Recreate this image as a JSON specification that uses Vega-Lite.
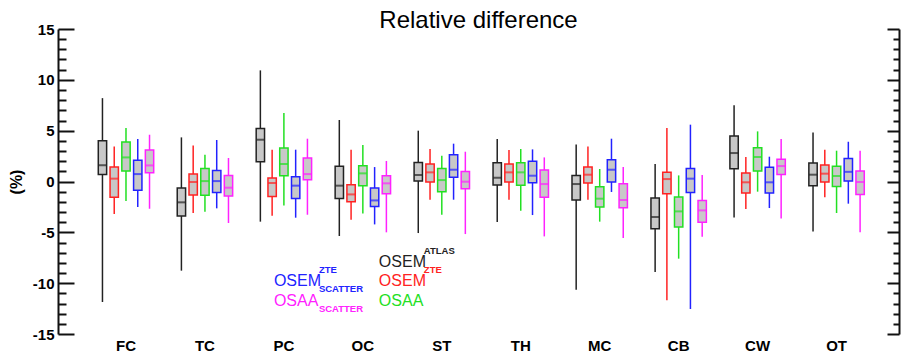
{
  "$schema": "https://vega.github.io/schema/vega-lite/v6.json",
  "width": 841,
  "height": 305,
  "autosize": {"type": "none"},
  "padding": {"left": 58, "top": 29, "right": 2, "bottom": 22},
  "background": "white",
  "title": {"text": "Relative difference", "fontSize": 24, "fontWeight": "normal", "font": "Liberation Sans", "color": "#000000", "anchor": "middle", "baseline": "alphabetic", "offset": 2, "dy": 32},
  "config": {"view": {"stroke": null}, "font": "Liberation Sans"},
  "datasets": {
    "box": [
      {"cat": "FC", "series": "A", "lo": -11.85, "q1": 0.7, "med": 1.6, "q3": 4.0, "hi": 8.2},
      {"cat": "FC", "series": "Z", "lo": -3.2, "q1": -1.56, "med": 0.28, "q3": 1.42, "hi": 3.45},
      {"cat": "FC", "series": "O", "lo": -1.92, "q1": 1.03, "med": 2.37, "q3": 3.88, "hi": 5.26},
      {"cat": "FC", "series": "ZS", "lo": -2.5, "q1": -0.87, "med": 0.73, "q3": 2.08, "hi": 4.18},
      {"cat": "FC", "series": "OS", "lo": -2.68, "q1": 0.87, "med": 1.58, "q3": 3.1, "hi": 4.6},
      {"cat": "TC", "series": "A", "lo": -8.77, "q1": -3.4, "med": -2.05, "q3": -0.64, "hi": 4.34},
      {"cat": "TC", "series": "Z", "lo": -3.1, "q1": -1.33, "med": -0.05, "q3": 0.73, "hi": 3.55},
      {"cat": "TC", "series": "O", "lo": -2.97, "q1": -1.36, "med": 0.04, "q3": 1.29, "hi": 2.64},
      {"cat": "TC", "series": "ZS", "lo": -2.64, "q1": -1.07, "med": 0.04, "q3": 1.09, "hi": 4.08},
      {"cat": "TC", "series": "OS", "lo": -4.08, "q1": -1.43, "med": -0.61, "q3": 0.6, "hi": 2.31},
      {"cat": "PC", "series": "A", "lo": -3.95, "q1": 1.95, "med": 4.11, "q3": 5.22, "hi": 10.93},
      {"cat": "PC", "series": "Z", "lo": -3.36, "q1": -1.47, "med": -0.15, "q3": 0.34, "hi": 3.13},
      {"cat": "PC", "series": "O", "lo": -2.35, "q1": 0.57, "med": 1.72, "q3": 3.29, "hi": 6.74},
      {"cat": "PC", "series": "ZS", "lo": -3.56, "q1": -1.66, "med": -0.41, "q3": 0.47, "hi": 3.13},
      {"cat": "PC", "series": "OS", "lo": -3.27, "q1": 0.18, "med": 0.73, "q3": 2.31, "hi": 4.21},
      {"cat": "OC", "series": "A", "lo": -5.36, "q1": -1.66, "med": -0.41, "q3": 1.49, "hi": 6.05},
      {"cat": "OC", "series": "Z", "lo": -3.76, "q1": -1.99, "med": -1.27, "q3": -0.31, "hi": 3.13},
      {"cat": "OC", "series": "O", "lo": -3.14, "q1": -0.41, "med": 0.8, "q3": 1.55, "hi": 3.59},
      {"cat": "OC", "series": "ZS", "lo": -4.22, "q1": -2.45, "med": -1.86, "q3": -0.64, "hi": 1.42},
      {"cat": "OC", "series": "OS", "lo": -5.0, "q1": -1.2, "med": -0.18, "q3": 0.57, "hi": 2.02},
      {"cat": "ST", "series": "A", "lo": -5.07, "q1": 0.04, "med": 0.64, "q3": 1.88, "hi": 5.0},
      {"cat": "ST", "series": "Z", "lo": -1.79, "q1": -0.05, "med": 0.9, "q3": 1.72, "hi": 3.2},
      {"cat": "ST", "series": "O", "lo": -3.27, "q1": -1.0, "med": 0.14, "q3": 1.29, "hi": 2.54},
      {"cat": "ST", "series": "ZS", "lo": -1.79, "q1": 0.41, "med": 1.16, "q3": 2.64, "hi": 3.72},
      {"cat": "ST", "series": "OS", "lo": -5.17, "q1": -0.71, "med": -0.02, "q3": 0.99, "hi": 2.93},
      {"cat": "TH", "series": "A", "lo": -3.98, "q1": -0.34, "med": 0.37, "q3": 1.85, "hi": 4.18},
      {"cat": "TH", "series": "Z", "lo": -1.79, "q1": -0.05, "med": 0.9, "q3": 1.72, "hi": 3.1},
      {"cat": "TH", "series": "O", "lo": -2.87, "q1": -0.38, "med": 0.9, "q3": 1.85, "hi": 3.2},
      {"cat": "TH", "series": "ZS", "lo": -3.3, "q1": -0.12, "med": 0.57, "q3": 1.98, "hi": 3.16},
      {"cat": "TH", "series": "OS", "lo": -5.4, "q1": -1.56, "med": -0.25, "q3": 1.13, "hi": 2.37},
      {"cat": "MC", "series": "A", "lo": -10.64, "q1": -1.82, "med": -0.25, "q3": 0.6, "hi": 3.65},
      {"cat": "MC", "series": "Z", "lo": -1.79, "q1": -0.15, "med": 0.67, "q3": 1.42, "hi": 3.45},
      {"cat": "MC", "series": "O", "lo": -3.95, "q1": -2.51, "med": -1.69, "q3": -0.51, "hi": 1.23},
      {"cat": "MC", "series": "ZS", "lo": -1.03, "q1": -0.05, "med": 1.16, "q3": 2.14, "hi": 4.21},
      {"cat": "MC", "series": "OS", "lo": -5.56, "q1": -2.58, "med": -1.82, "q3": -0.22, "hi": 1.42},
      {"cat": "CB", "series": "A", "lo": -8.9, "q1": -4.64, "med": -3.49, "q3": -1.63, "hi": 1.72},
      {"cat": "CB", "series": "Z", "lo": -11.69, "q1": -1.2, "med": 0.24, "q3": 0.9, "hi": 5.26},
      {"cat": "CB", "series": "O", "lo": -7.59, "q1": -4.48, "med": -2.94, "q3": -1.53, "hi": 0.6},
      {"cat": "CB", "series": "ZS", "lo": -12.54, "q1": -1.07, "med": 0.28, "q3": 1.29, "hi": 5.59},
      {"cat": "CB", "series": "OS", "lo": -5.43, "q1": -4.02, "med": -2.84, "q3": -1.86, "hi": 0.64},
      {"cat": "CW", "series": "A", "lo": -3.53, "q1": 1.26, "med": 2.8, "q3": 4.48, "hi": 7.49},
      {"cat": "CW", "series": "Z", "lo": -2.71, "q1": -1.13, "med": -0.08, "q3": 0.84, "hi": 2.41},
      {"cat": "CW", "series": "O", "lo": -1.0, "q1": 1.03, "med": 2.41, "q3": 3.32, "hi": 4.93},
      {"cat": "CW", "series": "ZS", "lo": -2.61, "q1": -1.13, "med": -0.08, "q3": 1.39, "hi": 2.44},
      {"cat": "CW", "series": "OS", "lo": -3.63, "q1": 0.7, "med": 1.52, "q3": 2.2, "hi": 4.18},
      {"cat": "OT", "series": "A", "lo": -4.91, "q1": -0.41, "med": 0.67, "q3": 1.82, "hi": 4.83},
      {"cat": "OT", "series": "Z", "lo": -1.56, "q1": -0.05, "med": 0.77, "q3": 1.62, "hi": 3.13},
      {"cat": "OT", "series": "O", "lo": -3.1, "q1": -0.48, "med": 0.54, "q3": 1.49, "hi": 3.03},
      {"cat": "OT", "series": "ZS", "lo": -2.18, "q1": 0.04, "med": 0.95, "q3": 2.27, "hi": 3.91},
      {"cat": "OT", "series": "OS", "lo": -5.0, "q1": -1.27, "med": -0.05, "q3": 1.03, "hi": 3.03}
    ]
  },
  "resolve": {"axis": {"y": "independent"}},
  "layer": [
    {
      "data": {"name": "box"},
      "mark": {"type": "rule", "strokeWidth": 1.5},
      "encoding": {
        "x": {
          "field": "cat", "type": "nominal",
          "scale": {"type": "band", "domain": ["FC", "TC", "PC", "OC", "ST", "TH", "MC", "CB", "CW", "OT"], "paddingInner": 0, "paddingOuter": 0.326, "align": 0.554},
          "axis": {"orient": "bottom", "domain": false, "ticks": false, "labelAngle": 0, "labelFont": "Liberation Sans", "labelFontSize": 15, "labelFontWeight": "bold", "labelColor": "#000000", "labelPadding": 4, "title": null}
        },
        "xOffset": {"field": "series", "type": "nominal", "scale": {"domain": ["A", "Z", "O", "ZS", "OS"], "paddingInner": 0.29, "paddingOuter": 1.17}},
        "y": {
          "field": "lo", "type": "quantitative",
          "scale": {"domain": [-15, 15], "nice": false, "zero": false},
          "axis": {
            "orient": "left",
            "values": [-15, -14, -13, -12, -11, -10, -9, -8, -7, -6, -5, -4, -3, -2, -1, 0, 1, 2, 3, 4, 5, 6, 7, 8, 9, 10, 11, 12, 13, 14, 15],
            "labelExpr": "datum.value % 5 === 0 ? '' + datum.value : ''",
            "tickSize": {"condition": {"test": "datum.value % 5 === 0", "value": -16}, "value": -8},
            "tickWidth": 2, "tickColor": "#111111",
            "domainColor": "#111111", "domainWidth": 2,
            "labelFont": "Liberation Sans", "labelFontSize": 15, "labelFontWeight": "bold", "labelColor": "#000000",
            "labelPadding": 20,
            "grid": false,
            "title": "(%)", "titleFont": "Liberation Sans", "titleFontSize": 16, "titleFontWeight": "bold", "titleColor": "#000000", "titlePadding": 8
          }
        },
        "y2": {"field": "hi"},
        "color": {"field": "series", "type": "nominal", "scale": {"domain": ["A", "Z", "O", "ZS", "OS"], "range": ["#222222", "#ff2222", "#22e022", "#2222ff", "#ff22ff"]}, "legend": null}
      }
    },
    {
      "data": {"name": "box"},
      "mark": {"type": "bar", "fill": "#c8c8c8", "strokeWidth": 1.5},
      "encoding": {
        "x": {"field": "cat", "type": "nominal"},
        "xOffset": {"field": "series", "type": "nominal"},
        "y": {
          "field": "q1", "type": "quantitative",
          "axis": {
            "orient": "right",
            "values": [-15, -14, -13, -12, -11, -10, -9, -8, -7, -6, -5, -4, -3, -2, -1, 0, 1, 2, 3, 4, 5, 6, 7, 8, 9, 10, 11, 12, 13, 14, 15],
            "labels": false,
            "tickSize": {"condition": {"test": "datum.value % 5 === 0", "value": -12}, "value": -6},
            "tickWidth": 2, "tickColor": "#111111",
            "domainColor": "#111111", "domainWidth": 2,
            "grid": false, "title": null
          }
        },
        "y2": {"field": "q3"},
        "stroke": {"field": "series", "type": "nominal", "scale": {"domain": ["A", "Z", "O", "ZS", "OS"], "range": ["#222222", "#ff2222", "#22e022", "#2222ff", "#ff22ff"]}, "legend": null}
      }
    },
    {
      "data": {"name": "box"},
      "mark": {"type": "tick", "thickness": 2, "size": 8},
      "encoding": {
        "x": {"field": "cat", "type": "nominal"},
        "xOffset": {"field": "series", "type": "nominal"},
        "y": {"field": "med", "type": "quantitative", "axis": null},
        "color": {"field": "series", "type": "nominal", "legend": null}
      }
    },
    {
      "mark": {"type": "rule", "color": "#333333", "strokeWidth": 1.5},
      "encoding": {"y": {"datum": 0, "type": "quantitative", "axis": null}}
    },
    {
      "data": {"values": [
        {"cat": "OC", "y": -8.38, "label": "OSEM", "series": "A"},
        {"cat": "OC", "y": -10.25, "label": "OSEM", "series": "Z"},
        {"cat": "OC", "y": -12.22, "label": "OSAA", "series": "O"}
      ]},
      "mark": {"type": "text", "align": "left", "baseline": "alphabetic", "dx": 16, "fontSize": 16, "font": "Liberation Sans"},
      "encoding": {
        "x": {"field": "cat", "type": "nominal"},
        "y": {"field": "y", "type": "quantitative", "axis": null},
        "text": {"field": "label"},
        "color": {"field": "series", "type": "nominal", "legend": null}
      }
    },
    {
      "data": {"values": [
        {"cat": "PC", "y": -10.25, "label": "OSEM", "series": "ZS"},
        {"cat": "PC", "y": -12.22, "label": "OSAA", "series": "OS"}
      ]},
      "mark": {"type": "text", "align": "left", "baseline": "alphabetic", "dx": -10, "fontSize": 16, "font": "Liberation Sans"},
      "encoding": {
        "x": {"field": "cat", "type": "nominal"},
        "y": {"field": "y", "type": "quantitative", "axis": null},
        "text": {"field": "label"},
        "color": {"field": "series", "type": "nominal", "legend": null}
      }
    },
    {
      "data": {"values": [
        {"cat": "OC", "y": -7.1, "label": "ATLAS", "series": "A"},
        {"cat": "OC", "y": -8.97, "label": "ZTE", "series": "Z"}
      ]},
      "mark": {"type": "text", "align": "left", "baseline": "alphabetic", "dx": 61, "fontSize": 9.5, "fontWeight": "bold", "font": "Liberation Sans"},
      "encoding": {
        "x": {"field": "cat", "type": "nominal"},
        "y": {"field": "y", "type": "quantitative", "axis": null},
        "text": {"field": "label"},
        "color": {"field": "series", "type": "nominal", "legend": null}
      }
    },
    {
      "data": {"values": [
        {"cat": "PC", "y": -8.97, "label": "ZTE", "series": "ZS"},
        {"cat": "PC", "y": -10.84, "label": "SCATTER", "series": "ZS"},
        {"cat": "PC", "y": -12.8, "label": "SCATTER", "series": "OS"}
      ]},
      "mark": {"type": "text", "align": "left", "baseline": "alphabetic", "dx": 35, "fontSize": 9.5, "fontWeight": "bold", "font": "Liberation Sans"},
      "encoding": {
        "x": {"field": "cat", "type": "nominal"},
        "y": {"field": "y", "type": "quantitative", "axis": null},
        "text": {"field": "label"},
        "color": {"field": "series", "type": "nominal", "legend": null}
      }
    }
  ]
}
